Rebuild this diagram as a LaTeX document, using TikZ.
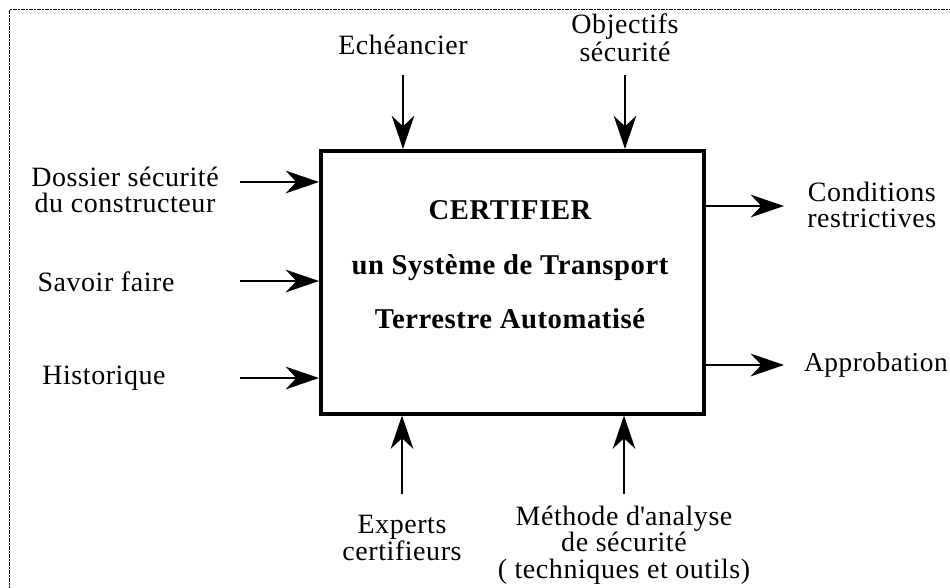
\documentclass[tikz,border=0pt]{standalone}
\usepackage{fontspec}
\setmainfont[LetterSpace=2]{Liberation Serif}
\usetikzlibrary{arrows.meta}

\begin{document}
\begin{tikzpicture}[x=0.75pt,y=0.75pt,yscale=-1,xscale=1,
	lbl/.style={inner sep=0.75pt, align=center, font=\fontsize{21}{20}\selectfont},
	flow/.style={line width=1.5pt, -{Stealth[length=25pt,width=17pt,inset=8pt]}}]
	\useasboundingbox (0,0) rectangle (950,587);
	
	%Shape: Frame 
	\draw [line width=1pt, dash pattern=on 3pt off 1pt on 1pt off 1pt] (9.5,590) -- (9.5,9.5) -- (955,9.5) ;
	
	%Shape: Rectangle [id:proc] 
	\node (proc) at (512.5,282.25) [draw, line width=3pt, minimum width=287.25pt, minimum height=196.9pt, inner sep=0pt] {};
	% Text Node
	\node (ttl) at (510,265) [inner sep=0.75pt, align=center, font=\fontsize{21.5}{41}\selectfont\bfseries] {CERTIFIER\\un Système de Transport\\Terrestre Automatisé};
	
	% Text Node
	\node (lEche) at (403,45) [lbl] {Echéancier};
	% Text Node
	\node (lObj) at (625,38) [lbl, font=\fontsize{21}{21}\selectfont] {Objectifs\\sécurité};
	% Text Node
	\node (lDoss) at (125,190) [lbl] {Dossier sécurité\\du constructeur};
	% Text Node
	\node (lSav) at (106,282) [lbl] {Savoir faire};
	% Text Node
	\node (lHist) at (104,378) [lbl] {Historique};
	% Text Node
	\node (lCond) at (806,205) [lbl, anchor=west] {Conditions\\restrictives};
	% Text Node
	\node (lAppr) at (949,365) [lbl, anchor=east, font=\fontsize{20.5}{20}\selectfont] {Approbation};
	% Text Node
	\node (lExp) at (402,538) [lbl] {Experts\\certifieurs};
	% Text Node
	\node (lMeth) at (624,545) [lbl] {Méthode d\textquotesingle analyse\\de sécurité\\( techniques et outils)};
	
	%Straight Lines: controls 
	\coordinate (cEche) at (403,75);
	\coordinate (cObj) at (625,75);
	\draw [flow] (cEche) -- (cEche |- proc.north) ;
	\draw [flow] (cObj) -- (cObj |- proc.north) ;
	%Straight Lines: inputs 
	\coordinate (iDoss) at (240,182);
	\coordinate (iSav) at (240,281);
	\coordinate (iHist) at (240,378);
	\draw [flow] (iDoss) -- (iDoss -| proc.west) ;
	\draw [flow] (iSav) -- (iSav -| proc.west) ;
	\draw [flow] (iHist) -- (iHist -| proc.west) ;
	%Straight Lines: outputs 
	\coordinate (oCond) at (784,206);
	\coordinate (oAppr) at (784,365);
	\draw [flow] (oCond -| proc.east) -- (oCond) ;
	\draw [flow] (oAppr -| proc.east) -- (oAppr) ;
	%Straight Lines: mechanisms 
	\coordinate (mExp) at (402,494);
	\coordinate (mMeth) at (624,494);
	\draw [flow] (mExp) -- (mExp |- proc.south) ;
	\draw [flow] (mMeth) -- (mMeth |- proc.south) ;
	
\end{tikzpicture}
\end{document}
